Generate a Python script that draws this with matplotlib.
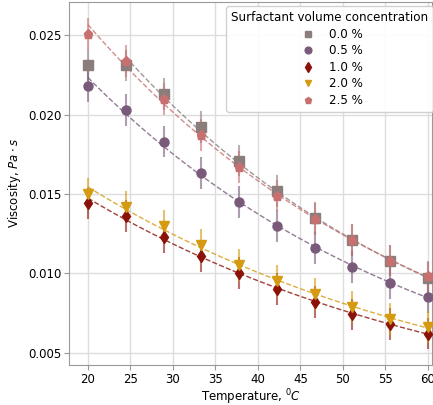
import numpy as np
import matplotlib
matplotlib.use("Agg")
import matplotlib.pyplot as plt

temperature = [20.0, 24.44, 28.89, 33.33, 37.78, 42.22, 46.67, 51.11, 55.56, 60.0]
labels = ["0.0 %", "0.5 %", "1.0 %", "2.0 %", "2.5 %"]
visc_00 = [0.0231, 0.0231, 0.0213, 0.0192, 0.0171, 0.0152, 0.0135, 0.0121, 0.0108, 0.0097]
visc_05 = [0.0218, 0.0203, 0.0183, 0.0163, 0.0145, 0.0130, 0.0116, 0.0104, 0.0094, 0.0085]
visc_10 = [0.0144, 0.0136, 0.0123, 0.0111, 0.0100, 0.0090, 0.0082, 0.0074, 0.0068, 0.0062]
visc_20 = [0.0150, 0.0142, 0.0130, 0.0118, 0.0105, 0.0095, 0.0087, 0.0079, 0.0071, 0.0066]
visc_25 = [0.0251, 0.0234, 0.0210, 0.0187, 0.0167, 0.0149, 0.0134, 0.0121, 0.0108, 0.0098]
errors = 0.001
fit_start = [1, 0, 0, 0, 0]

colors = ["#8c7d7d", "#7a5a7a", "#8b1208", "#d49a10", "#c87070"]
markers = ["s", "o", "d", "v", "p"]
series = [visc_00, visc_05, visc_10, visc_20, visc_25]

fig = plt.figure(figsize=(4.33, 4.05), dpi=100)
ax = fig.add_axes([0.160, 0.099, 0.838, 0.896])

x = np.array(temperature)
for vals, lab, c, m, s0 in zip(series, labels, colors, markers, fit_start):
    y = np.array(vals)
    ax.errorbar(x, y, yerr=errors, fmt="none", ecolor=c, alpha=0.6, elinewidth=1.5, zorder=2)
    ax.plot(x, y, linestyle="none", marker=m, color=c, markersize=6.5, label=lab, zorder=3)
    # exponential fit
    k, b = np.polyfit(x[s0:], np.log(y[s0:]), 1)
    xf = np.linspace(x[s0], x[-1], 50)
    ax.plot(xf, np.exp(k * xf + b), "--", color=c, alpha=0.8, linewidth=1, zorder=2)

ax.set_xlim(17.8, 60.5)
ax.set_ylim(0.00422, 0.0271)
ax.set_xticks([20, 25, 30, 35, 40, 45, 50, 55, 60])
ax.set_yticks([0.005, 0.010, 0.015, 0.020, 0.025])
ax.grid(True, color="#dddddd", linewidth=1)
ax.set_axisbelow(True)
for sp in ax.spines.values():
    sp.set_color("#999999")
ax.tick_params(colors="#999999", labelcolor="black", labelsize=8.5, pad=2)
ax.set_xlabel(r"Temperature, $^0C$", fontsize=8.5, labelpad=1)
ax.set_ylabel(r"Viscosity, $Pa \cdot s$", fontsize=8.5)

leg = ax.legend(title="Surfactant volume concentration", loc="upper right",
                bbox_to_anchor=(1.012, 0.998), fontsize=8.6, title_fontsize=8.6,
                framealpha=0.9, edgecolor="#cccccc", labelspacing=0.3,
                markerscale=0.75, borderaxespad=0.3)
leg._legend_box.align = "center"

fig.savefig("out.png", dpi=100)
